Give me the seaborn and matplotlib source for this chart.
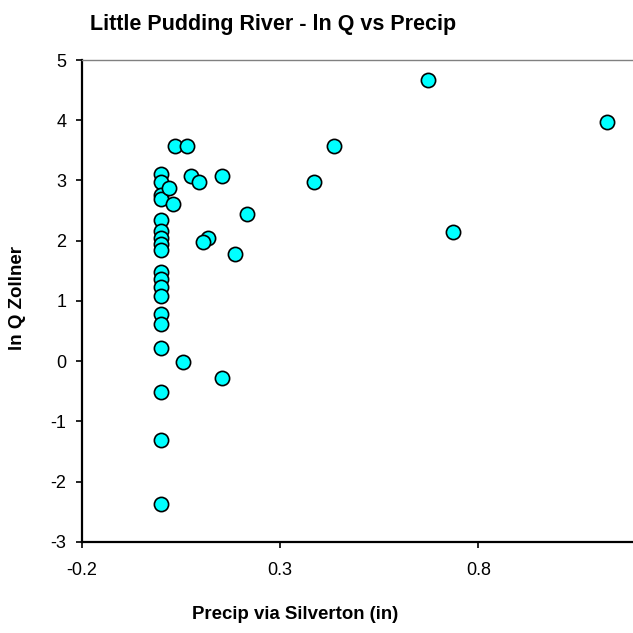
import matplotlib
matplotlib.use("Agg")
import matplotlib.pyplot as plt
import pandas as pd
import seaborn as sns

# values
precip = [0.0, 0.0, 0.0, 0.0, 0.0, 0.0, 0.0, 0.0, 0.0, 0.0,
          0.0, 0.0, 0.0, 0.0, 0.0, 0.0, 0.0, 0.0, 0.0,
          0.021, 0.030, 0.035, 0.065, 0.075, 0.097, 0.155, 0.216, 0.118,
          0.105, 0.187, 0.055, 0.155, 0.387, 0.436, 0.674, 1.124, 0.736]
ln_q = [3.11, 2.98, 2.75, 2.69, 2.35, 2.16, 2.05, 1.94, 1.84, 1.48,
        1.37, 1.23, 1.08, 0.79, 0.61, 0.22, -0.51, -1.31, -2.38,
        2.88, 2.61, 3.57, 3.57, 3.07, 2.97, 3.07, 2.45, 2.05,
        1.98, 1.78, -0.02, -0.28, 2.97, 3.57, 4.67, 3.97, 2.14]

x_ticks = [-0.2, 0.3, 0.8]
y_ticks = [-3, -2, -1, 0, 1, 2, 3, 4, 5]

df = pd.DataFrame({"precip": precip, "lnq": ln_q})

sns.set_theme(style="white")
plt.rcParams['font.family'] = ['Liberation Sans', 'DejaVu Sans']
plt.rcParams['axes.unicode_minus'] = False
plt.rcParams['text.color'] = 'black'
plt.rcParams['xtick.color'] = 'black'
plt.rcParams['ytick.color'] = 'black'

fig = plt.figure(figsize=(6.33, 6.33), dpi=100)
ax = fig.add_axes([0.129, 0.1442, 0.871, 0.7610])

sns.scatterplot(data=df, x="precip", y="lnq", ax=ax, s=105, color="#00FFFF",
                edgecolor="black", linewidth=1.2, zorder=3)

ax.set_xlim(-0.2, 1.19)
ax.set_ylim(-3, 5)
ax.set_xticks(x_ticks)
ax.set_xticklabels([str(t) for t in x_ticks])
ax.set_yticks(y_ticks)
ax.set_yticklabels([str(t) for t in y_ticks])
ax.set_xlabel("")
ax.set_ylabel("")

ax.spines['left'].set_color('black')
ax.spines['left'].set_linewidth(1.6)
ax.spines['bottom'].set_color('black')
ax.spines['bottom'].set_linewidth(1.6)
ax.spines['top'].set_color('#808080')
ax.spines['top'].set_linewidth(1.0)
ax.spines['right'].set_visible(False)

ax.tick_params(axis='both', which='major', direction='out', length=4, width=1.2,
               color='black', labelcolor='black', labelsize=13, bottom=True, left=True)
ax.tick_params(axis='x', pad=10.5)
ax.tick_params(axis='y', pad=7)

fig.text(0.431, 0.962, "Little Pudding River - ln Q vs Precip", ha='center', va='center',
         fontsize=15.5, fontweight='bold', color='black')
fig.text(0.466, 0.030, "Precip via Silverton (in)", ha='center', va='center',
         fontsize=13.4, fontweight='bold', color='black')
fig.text(0.027, 0.529, "ln Q Zollner", ha='center', va='center', rotation=90,
         fontsize=13.5, fontweight='bold', color='black')

fig.savefig("out.png", dpi=100, facecolor='white')
